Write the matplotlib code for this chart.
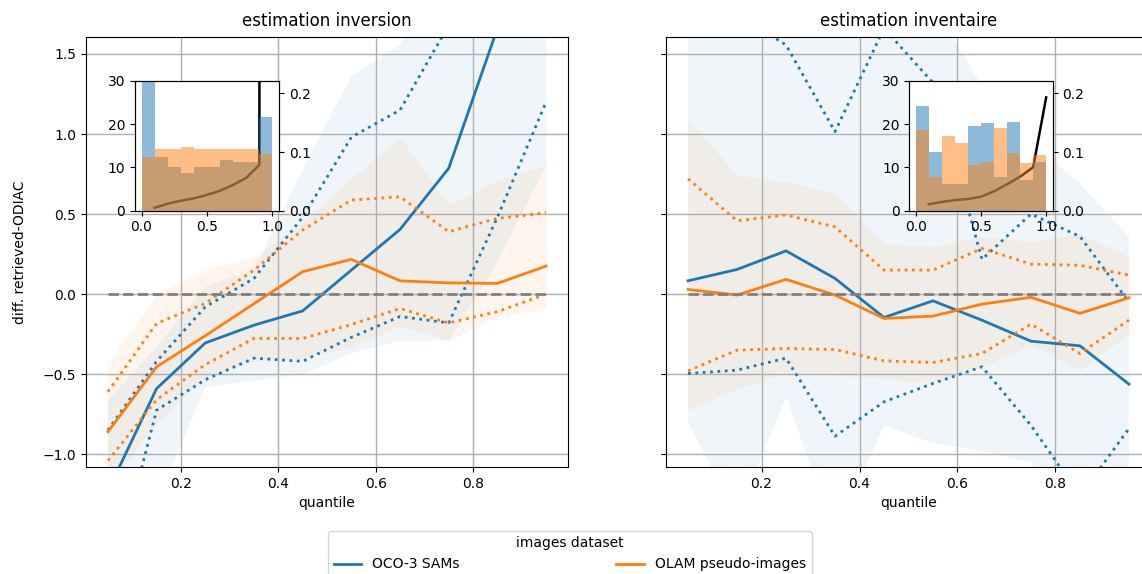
import numpy as np
import matplotlib
matplotlib.use("Agg")
import matplotlib.pyplot as plt

# quantile positions
quantiles = [0.05, 0.15, 0.25, 0.35, 0.45, 0.55, 0.65, 0.75, 0.85, 0.95]

# estimation inversion - OCO-3 SAMs
oco_inv_med = [-1.23, -0.59, -0.305, -0.194, -0.105, 0.15, 0.404, 0.786, 1.66, 2.5]
oco_inv_q25 = [-1.9, -0.725, -0.535, -0.40, -0.42, -0.27, -0.14, -0.18, 0.48, 1.2]
oco_inv_q75 = [-0.85, -0.42, -0.08, 0.098, 0.48, 0.98, 1.15, 1.68, 2.2, 2.7]
oco_inv_q10 = [-2.5, -1.3, -0.58, -0.54, -0.5, -0.37, -0.29, -0.29, 0.2, 0.8]
oco_inv_q90 = [-0.66, -0.33, 0.046, 0.15, 0.78, 1.36, 1.56, 2.2, 3.0, 4.0]

# estimation inversion - OLAM pseudo-images
olam_inv_med = [-0.86, -0.454, -0.26, -0.06, 0.14, 0.217, 0.083, 0.07, 0.067, 0.175]
olam_inv_q25 = [-1.04, -0.66, -0.44, -0.277, -0.277, -0.19, -0.09, -0.18, -0.11, 0.0]
olam_inv_q75 = [-0.61, -0.183, -0.058, 0.15, 0.4, 0.5875, 0.608, 0.39, 0.473, 0.508]
olam_inv_q10 = [-1.2, -0.8, -0.52, -0.42, -0.4, -0.33, -0.2, -0.29, -0.14, -0.09]
olam_inv_q90 = [-0.43, 0.0, 0.15, 0.23, 0.45, 0.72, 0.98, 0.556, 0.71, 0.806]

# estimation inventaire - OCO-3 SAMs
oco_invt_med = [0.083, 0.154, 0.27, 0.098, -0.146, -0.042, -0.163, -0.294, -0.323, -0.5625]
oco_invt_q25 = [-0.496, -0.475, -0.40, -0.8875, -0.673, -0.558, -0.454, -0.82, -1.26, -0.84]
oco_invt_q75 = [2.1, 1.75, 1.556, 1.015, 1.66, 1.32, 0.217, 0.5, 0.36, -0.05]
oco_invt_q10 = [-0.8, -1.4, -0.64, -1.5, -0.82, -0.93, -0.98, -1.05, -1.6, -1.4]
oco_invt_q90 = [2.5, 2.3, 2.0, 1.8, 1.9, 1.8, 1.3, 0.95, 0.69, 0.36]

# estimation inventaire - OLAM pseudo-images
olam_invt_med = [0.029, -0.006, 0.092, -0.006, -0.152, -0.1375, -0.0625, -0.02, -0.12, -0.023]
olam_invt_q25 = [-0.479, -0.35, -0.34, -0.346, -0.417, -0.427, -0.371, -0.1875, -0.371, -0.1625]
olam_invt_q75 = [0.72, 0.458, 0.494, 0.42, 0.15, 0.15, 0.285, 0.1875, 0.18, 0.119]
olam_invt_q10 = [-0.725, -0.59, -0.496, -0.506, -0.527, -0.558, -0.454, -0.319, -0.475, -0.246]
olam_invt_q90 = [1.0875, 0.744, 0.70, 0.63, 0.317, 0.296, 0.36, 0.327, 0.375, 0.233]

# insets: histograms (10 bins on [0, 1]) and black curve
bin_edges = [0.0, 0.1, 0.2, 0.3, 0.4, 0.5, 0.6, 0.7, 0.8, 0.9, 1.0]
hist_inv_oco = [33, 12.4, 10.2, 8.6, 10.0, 10.0, 11.8, 11.2, 11.2, 21.7]
hist_inv_olam = [12.4, 14.2, 14.2, 14.6, 14.2, 14.2, 14.2, 14.2, 14.2, 13.1]
hist_invt_oco = [24.2, 13.5, 6.2, 6.2, 19.5, 20.2, 7.7, 20.5, 7.1, 11.3]
hist_invt_olam = [18.7, 7.7, 17.2, 15.7, 10.6, 11.3, 19.0, 13.2, 11.0, 12.8]
curve_x = [0.1, 0.2, 0.3, 0.4, 0.5, 0.6, 0.7, 0.8, 0.9, 1.0]
curve_inv = [0.005, 0.012, 0.017, 0.021, 0.027, 0.034, 0.044, 0.056, 0.078, 25.0]
curve_invt = [0.011, 0.015, 0.018, 0.020, 0.024, 0.033, 0.045, 0.058, 0.074, 0.193]

W, H = 1142, 574
fig = plt.figure(figsize=(W / 100, H / 100), dpi=100)
ax1 = fig.add_axes([86 / W, 107 / H, 482 / W, 430 / H])
ax2 = fig.add_axes([666 / W, 107 / H, 485 / W, 430 / H], sharey=ax1)


def draw_panel(ax, series, title):
    for color, med, q25, q75, q10, q90 in series:
        ax.fill_between(quantiles, q10, q90, color=color, alpha=0.07, lw=0)
        ax.plot(quantiles, q25, ':', color=color, lw=2)
        ax.plot(quantiles, q75, ':', color=color, lw=2)
        ax.plot(quantiles, med, '-', color=color, lw=2)
    ax.plot(quantiles, np.zeros(len(quantiles)), '--', color='gray', lw=2)
    ax.set_title(title, pad=8)
    ax.set_xlabel("quantile")
    ax.grid(True, color='#b0b0b0', lw=1)
    ax.set_ylim(-1.08, 1.606)
    ax.set_xticks([0.2, 0.4, 0.6, 0.8])


draw_panel(ax1, [("C0", oco_inv_med, oco_inv_q25, oco_inv_q75, oco_inv_q10, oco_inv_q90),
                 ("C1", olam_inv_med, olam_inv_q25, olam_inv_q75, olam_inv_q10, olam_inv_q90)],
           "estimation inversion")
draw_panel(ax2, [("C0", oco_invt_med, oco_invt_q25, oco_invt_q75, oco_invt_q10, oco_invt_q90),
                 ("C1", olam_invt_med, olam_invt_q25, olam_invt_q75, olam_invt_q10, olam_invt_q90)],
           "estimation inventaire")
ax1.set_ylabel("diff. retrieved-ODIAC", labelpad=11)
ax1.set_yticks([-1.0, -0.5, 0.0, 0.5, 1.0, 1.5])
ax2.tick_params(labelleft=False)


def draw_inset(rect, h_oco, h_olam, curve):
    # line axes underneath, histogram twin on top (transparent)
    ax_line = fig.add_axes(rect)
    ax_line.set_facecolor('white')
    ax_line.plot(curve_x, curve, color='k', lw=1.8)
    ax_line.set_ylim(0, 0.2215)
    ax_line.set_yticks([0.0, 0.1, 0.2])
    ax_hist = ax_line.twinx()
    centers = [(a + b) / 2 for a, b in zip(bin_edges[:-1], bin_edges[1:])]
    ax_hist.hist(centers, bins=bin_edges, weights=h_oco, color='C0', alpha=0.5)
    ax_hist.hist(centers, bins=bin_edges, weights=h_olam, color='C1', alpha=0.5)
    ax_hist.set_ylim(0, 30)
    ax_hist.set_yticks([0, 10, 20, 30])
    ax_hist.yaxis.tick_left()
    ax_line.yaxis.tick_right()
    ax_line.set_xlim(-0.05, 1.05)
    ax_line.set_xticks([0.0, 0.5, 1.0])


draw_inset([135 / W, (574 - 210.7) / H, 144 / W, 130 / H], hist_inv_oco, hist_inv_olam, curve_inv)
draw_inset([909.3 / W, (574 - 210.7) / H, 143.4 / W, 130 / H], hist_invt_oco, hist_invt_olam, curve_invt)

handles = [ax1.lines[2], ax1.lines[5]]
fig.legend(handles, ["OCO-3 SAMs", "OLAM pseudo-images"], title="images dataset",
           loc='upper center', ncol=2, mode='expand',
           bbox_to_anchor=(321 / W, -0.2, 498 / W, 0.2 + (574 - 524) / H))

fig.savefig("out.png", dpi=100)
